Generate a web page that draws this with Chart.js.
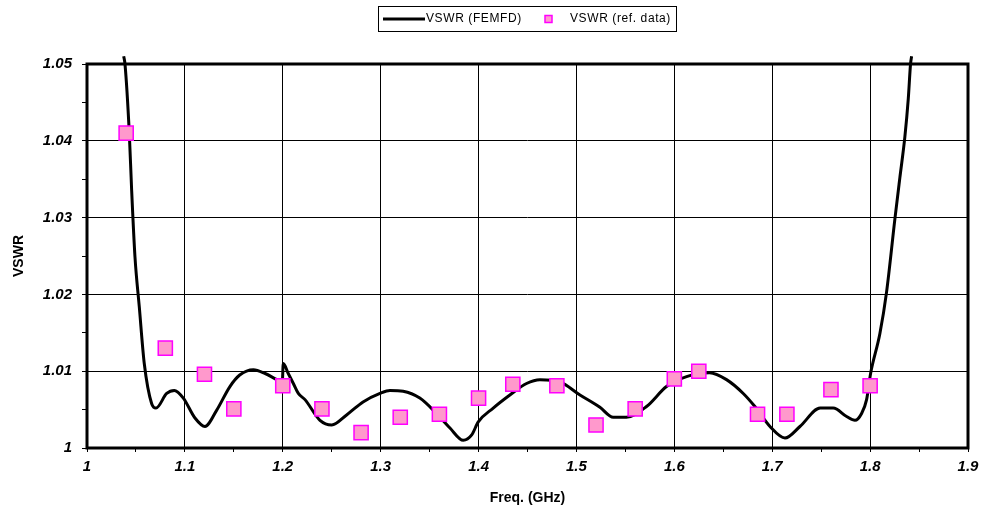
<!DOCTYPE html>
<html>
<head>
<meta charset="utf-8">
<script src="https://cdn.jsdelivr.net/npm/chart.js@4.4.1/dist/chart.umd.min.js"></script>
<style>
  html, body { margin: 0; padding: 0; background: #fff; }
  #wrap { width: 981px; height: 513px; }
</style>
</head>
<body>
<div id="wrap"><canvas id="vswrChart" width="981" height="513"></canvas></div>
<script>
// FEMFD simulation curve
const femFreq = [1.0375, 1.0388, 1.0432, 1.0456, 1.049, 1.0534, 1.0585, 1.066, 1.0705, 1.0814,
    1.0892, 1.0984, 1.1103, 1.1205, 1.1324, 1.146, 1.156, 1.170, 1.182, 1.194,
    1.1995, 1.2005, 1.2056, 1.2108, 1.2159, 1.2227, 1.238, 1.25, 1.2652, 1.282,
    1.2993, 1.3095, 1.323, 1.340, 1.357, 1.3708, 1.3844, 1.393, 1.3997, 1.415,
    1.432, 1.449, 1.4627, 1.483, 1.5036, 1.524, 1.5376, 1.551, 1.5716, 1.592,
    1.6125, 1.636, 1.6533, 1.6704, 1.6823, 1.6977, 1.713, 1.7283, 1.749, 1.7623,
    1.776, 1.7845, 1.7913, 1.7964, 1.8005, 1.81, 1.8168, 1.8253, 1.8304, 1.8355,
    1.839, 1.8413, 1.8424];
const femVswr = [1.051, 1.05, 1.041, 1.0336, 1.0249, 1.0184, 1.011, 1.0058, 1.0052, 1.0071,
    1.0075, 1.0065, 1.0039, 1.0028, 1.0049, 1.008, 1.0095, 1.0102, 1.0097, 1.0089,
    1.0086, 1.011, 1.0097, 1.0084, 1.0071, 1.0063, 1.0036, 1.003, 1.0043, 1.006,
    1.0071, 1.0075, 1.0074, 1.0065, 1.0045, 1.0026, 1.001, 1.0017, 1.0034, 1.0052,
    1.0069, 1.0084, 1.0089, 1.0086, 1.0069, 1.0053, 1.004, 1.004, 1.0054, 1.008,
    1.0093, 1.0098, 1.0089, 1.0071, 1.0054, 1.0028, 1.0013, 1.0028, 1.0052, 1.0052,
    1.0041, 1.0036, 1.0045, 1.0063, 1.0097, 1.0149, 1.0203, 1.0298, 1.0352, 1.0405,
    1.0455, 1.05, 1.051];

// reference measurement points
const refFreq = [1.04, 1.08, 1.12, 1.15, 1.20, 1.24, 1.28, 1.32, 1.36, 1.40,
    1.435, 1.48, 1.52, 1.56, 1.60, 1.625, 1.685, 1.715, 1.76, 1.80];
const refVswr = [1.041, 1.013, 1.0096, 1.0051, 1.0081, 1.0051, 1.002, 1.004, 1.0044, 1.0065,
    1.0083, 1.0081, 1.003, 1.0051, 1.009, 1.01, 1.0044, 1.0044, 1.0076, 1.0081];

const xMin = 1, xMax = 1.9, xStep = 0.05, xLabelStep = 0.1;
const yMin = 1, yMax = 1.05, yStep = 0.005, yLabelStep = 0.01;

const tickFont = { family: 'Liberation Sans, Arial', size: 15, weight: 'bold', style: 'italic' };
const titleFont = { family: 'Liberation Sans, Arial', size: 14, weight: 'bold' };

function isMajor(v, step) {
    const r = v / step;
    return Math.abs(r - Math.round(r)) < 1e-6;
}
function fmt(v) {
    return String(Number(v.toFixed(3)));
}

// boxed legend like the original sheet
const legendBox = {
    id: 'legendBox',
    afterDraw(chart) {
        const ctx = chart.ctx;
        ctx.save();
        ctx.strokeStyle = '#000';
        ctx.lineWidth = 1;
        ctx.strokeRect(378.5, 6.5, 298, 25);
        ctx.lineWidth = 3;
        ctx.beginPath();
        ctx.moveTo(383, 19);
        ctx.lineTo(425, 19);
        ctx.stroke();
        ctx.fillStyle = '#FF99CC';
        ctx.strokeStyle = '#FF00FF';
        ctx.lineWidth = 1.5;
        ctx.fillRect(545, 15.5, 7, 7);
        ctx.strokeRect(545, 15.5, 7, 7);
        ctx.fillStyle = '#000';
        ctx.font = '12px "Liberation Sans", Arial';
        ctx.textBaseline = 'middle';
        if ('letterSpacing' in ctx) ctx.letterSpacing = '0.6px';
        ctx.fillText('VSWR (FEMFD)', 426, 19);
        ctx.fillText('VSWR (ref. data)', 570, 19);
        ctx.restore();
    }
};

// heavy frame round the plot area
const plotFrame = {
    id: 'plotFrame',
    beforeDatasetsDraw(chart) {
        const a = chart.chartArea;
        const ctx = chart.ctx;
        ctx.save();
        ctx.strokeStyle = '#000';
        ctx.lineWidth = 3;
        ctx.strokeRect(a.left, a.top, a.right - a.left, a.bottom - a.top);
        ctx.restore();
    }
};

new Chart(document.getElementById('vswrChart').getContext('2d'), {
    type: 'scatter',
    data: {
        datasets: [
            {
                label: 'VSWR (FEMFD)',
                type: 'line',
                data: femFreq.map((f, i) => ({ x: f, y: femVswr[i] })),
                borderColor: '#000',
                borderWidth: 3,
                pointRadius: 0,
                cubicInterpolationMode: 'monotone',
                fill: false,
                clip: false,
                order: 2,
            },
            {
                label: 'VSWR (ref. data)',
                data: refFreq.map((f, i) => ({ x: f, y: refVswr[i] })),
                pointStyle: 'rect',
                pointRadius: 10,
                pointBackgroundColor: '#FF99CC',
                pointBorderColor: '#FF00FF',
                pointBorderWidth: 1.5,
                order: 1,
            },
        ],
    },
    options: {
        responsive: false,
        animation: false,
        layout: { padding: { top: 64, right: 13, left: 0, bottom: 0 } },
        plugins: {
            legend: { display: false },
            tooltip: { enabled: false },
        },
        scales: {
            x: {
                type: 'linear',
                min: xMin,
                max: xMax,
                afterFit(scale) {
                    scale.height = 65;
                    scale.paddingLeft = 0;
                    scale.paddingRight = 0;
                },
                border: { display: false },
                grid: {
                    color: (c) => isMajor(c.tick.value, xLabelStep) ? '#000' : 'rgba(0,0,0,0)',
                    tickColor: '#000',
                    tickLength: 4,
                    lineWidth: 1,
                },
                ticks: {
                    stepSize: xStep,
                    maxTicksLimit: 100,
                    autoSkip: false,
                    maxRotation: 0,
                    padding: 6,
                    color: '#000',
                    font: tickFont,
                    callback: (v) => isMajor(v, xLabelStep) ? fmt(v) : '',
                },
                title: {
                    display: true,
                    text: 'Freq. (GHz)',
                    color: '#000',
                    font: titleFont,
                    padding: { top: 0, bottom: 6 },
                },
            },
            y: {
                min: yMin,
                max: yMax,
                afterFit(scale) { scale.width = 87; },
                border: { display: false },
                grid: {
                    color: (c) => isMajor(c.tick.value, yLabelStep) ? '#000' : 'rgba(0,0,0,0)',
                    tickColor: '#000',
                    tickLength: 5,
                    lineWidth: 1,
                },
                ticks: {
                    stepSize: yStep,
                    maxTicksLimit: 100,
                    autoSkip: false,
                    padding: 10,
                    color: '#000',
                    font: tickFont,
                    callback: (v) => isMajor(v, yLabelStep) ? fmt(v) : '',
                },
                title: {
                    display: true,
                    text: 'VSWR',
                    color: '#000',
                    font: titleFont,
                    padding: { top: 11, bottom: 0 },
                },
            },
        },
    },
    plugins: [plotFrame, legendBox],
});
</script>
</body>
</html>
